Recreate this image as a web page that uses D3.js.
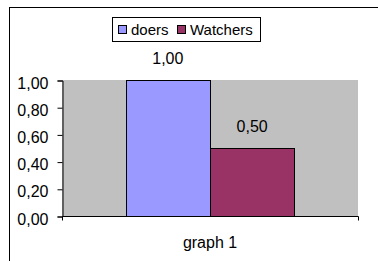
<!DOCTYPE html>
<html>
<head>
<meta charset="utf-8">
<script src="https://cdn.jsdelivr.net/npm/d3@7"></script>
<style>
  body { margin: 0; background: #fff; }
  svg { display: block; font-family: "Liberation Sans", Arial, sans-serif; }
</style>
</head>
<body>
<div id="chart"></div>
<script>
// chart data
var categories = ["graph 1"];
var seriesNames = ["doers", "Watchers"];
var seriesValues = [[1.00], [0.50]];
var seriesColors = ["#9999FF", "#993366"];
var yTicks = [0, 0.2, 0.4, 0.6, 0.8, 1.0];

var width = 378,
  height = 261;

var plot = { left: 62, right: 358, top: 80, bottom: 216 };

var svg = d3.select("#chart").append("svg")
  .attr("width", width)
  .attr("height", height);

// outer chart border (runs off the right and bottom)
svg.append("rect")
  .attr("x", 9.5)
  .attr("y", 7.5)
  .attr("width", 400)
  .attr("height", 300)
  .attr("fill", "#fff")
  .attr("stroke", "#000")
  .attr("stroke-width", 1);

// comma as decimal separator
var locale = d3.formatLocale({ decimal: ",", thousands: ".", grouping: [3], currency: ["", ""] });
var fmt = locale.format(".2f");

var y = d3.scaleLinear()
  .domain([0, 1])
  .range([plot.bottom, plot.top]);

var x0 = d3.scaleBand()
  .domain(categories)
  .range([plot.left, plot.right])
  .paddingInner(0.43)
  .paddingOuter(0.215);

var x1 = d3.scaleBand()
  .domain(seriesNames)
  .range([0, x0.bandwidth()]);

// plot area background
svg.append("rect")
  .attr("x", plot.left)
  .attr("y", plot.top)
  .attr("width", plot.right - plot.left)
  .attr("height", plot.bottom - plot.top)
  .attr("fill", "#C0C0C0");

// bars
var rows = [];
categories.forEach(function (c, ci) {
  seriesNames.forEach(function (s, si) {
    rows.push({ cat: c, series: s, value: seriesValues[si][ci], color: seriesColors[si] });
  });
});

svg.append("g")
  .selectAll("rect")
  .data(rows)
  .enter()
  .append("rect")
  .attr("x", function (d) { return Math.round(x0(d.cat) + x1(d.series)) + 0.5; })
  .attr("y", function (d) { return Math.round(y(d.value)) + 0.5; })
  .attr("width", function (d) { return Math.round(x1.bandwidth()); })
  .attr("height", function (d) { return Math.round(y(0) - y(d.value)); })
  .attr("fill", function (d) { return d.color; })
  .attr("stroke", "#000")
  .attr("stroke-width", 1);

// value labels
svg.append("g")
  .selectAll("text")
  .data(rows)
  .enter()
  .append("text")
  .attr("x", function (d) { return x0(d.cat) + x1(d.series) + x1.bandwidth() / 2; })
  .attr("y", function (d) { return y(d.value) - 16; })
  .attr("text-anchor", "middle")
  .attr("font-size", 16)
  .text(function (d) { return fmt(d.value); });

// y axis
var yAxis = d3.axisLeft(y)
  .tickValues(yTicks)
  .tickFormat(fmt)
  .tickSize(5)
  .tickPadding(9);

var gy = svg.append("g")
  .attr("transform", "translate(" + (plot.left + 0.5) + ",0.5)")
  .call(yAxis);
gy.select(".domain").attr("stroke", "#000");
gy.selectAll(".tick line").attr("stroke", "#000");
gy.selectAll(".tick text")
  .attr("y", 2.5)
  .attr("font-size", 16)
  .attr("font-family", "Liberation Sans, Arial, sans-serif")
  .attr("fill", "#000");

// x axis
var xAxis = d3.axisBottom(x0)
  .tickSize(0)
  .tickPadding(20);

var gx = svg.append("g")
  .attr("transform", "translate(0," + (plot.bottom + 0.5) + ")")
  .call(xAxis);
gx.select(".domain").attr("stroke", "#000")
  .attr("d", "M" + (plot.left + 0.5) + ",4V0H" + (plot.right + 0.5) + "V4");
gx.selectAll(".tick text")
  .attr("font-size", 16)
  .attr("font-family", "Liberation Sans, Arial, sans-serif")
  .attr("fill", "#000");

// legend
var legend = svg.append("g");
legend.append("rect")
  .attr("x", 112.5)
  .attr("y", 17.5)
  .attr("width", 148)
  .attr("height", 24)
  .attr("fill", "#fff")
  .attr("stroke", "#000");

var legendX = [118, 177];
var items = legend.selectAll("g.item")
  .data(seriesNames)
  .enter()
  .append("g")
  .attr("class", "item")
  .attr("transform", function (d, i) { return "translate(" + legendX[i] + ",0)"; });

items.append("rect")
  .attr("x", 0.5)
  .attr("y", 25.5)
  .attr("width", 8)
  .attr("height", 8)
  .attr("fill", function (d, i) { return seriesColors[i]; })
  .attr("stroke", "#000");

items.append("text")
  .attr("x", 13)
  .attr("y", 35)
  .attr("font-size", 15)
  .text(function (d) { return d; });
</script>
</body>
</html>
